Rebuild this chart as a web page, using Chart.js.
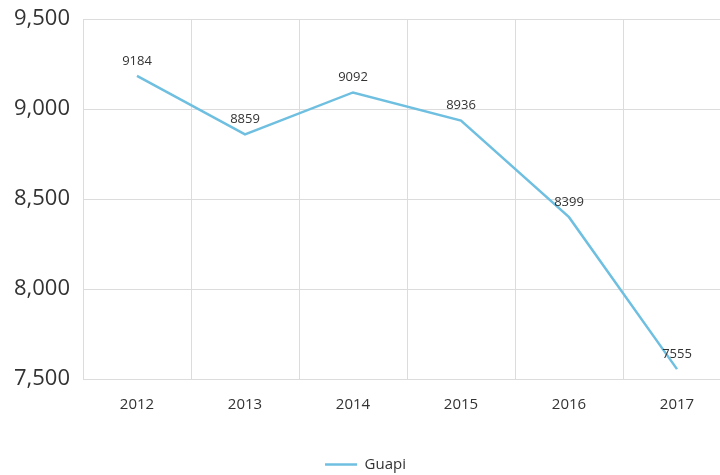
<!DOCTYPE html>
<html>
<head>
<meta charset="utf-8">
<script src="https://cdn.jsdelivr.net/npm/chart.js@4"></script>
<style>
  html, body { margin: 0; padding: 0; background: #fff; overflow: hidden; width: 720px; height: 475px; }
  #wrap { width: 731px; height: 475px; }
</style>
</head>
<body>
<div id="wrap"><canvas id="chart" width="731" height="475"></canvas></div>
<script>
const years = ["2012", "2013", "2014", "2015", "2016", "2017"];
const guapi = [9184, 8859, 9092, 8936, 8399, 7555];
const yTicks = [7500, 8000, 8500, 9000, 9500];

// draws the value above each point
const valueLabels = {
    id: "valueLabels",
    afterDatasetsDraw(chart) {
        const ctx = chart.ctx;
        const meta = chart.getDatasetMeta(0);
        ctx.save();
        ctx.font = "13px 'Open Sans'";
        ctx.fillStyle = "#333";
        ctx.textAlign = "center";
        ctx.textBaseline = "middle";
        meta.data.forEach((pt, i) => {
            ctx.fillText(String(guapi[i]), pt.x, pt.y - 15);
        });
        ctx.restore();
    }
};

document.addEventListener("DOMContentLoaded", function () {
    const ctx = document.getElementById("chart").getContext("2d");
    new Chart(ctx, {
        type: "line",
        data: {
            labels: years,
            datasets: [{
                label: "Guapi",
                data: guapi,
                borderColor: "#6fbfe0",
                backgroundColor: "#6fbfe0",
                borderWidth: 2.5,
                pointRadius: 0,
                tension: 0,
                fill: false
            }]
        },
        options: {
            responsive: false,
            animation: false,
            layout: { padding: { top: 19, right: 0, left: 0, bottom: -7 } },
            plugins: {
                legend: {
                    position: "bottom",
                    labels: {
                        usePointStyle: true,
                        pointStyle: "line",
                        pointStyleWidth: 32,
                        color: "#333",
                        font: { family: "'Open Sans'", size: 15 },
                        padding: 4
                    }
                },
                tooltip: { enabled: false }
            },
            scales: {
                x: {
                    offset: true,
                    grid: {
                        color: c => (c.index >= years.length ? "rgba(0,0,0,0)" : "#dcdcdc"),
                        offset: true,
                        drawTicks: false
                    },
                    border: { color: "#dcdcdc" },
                    ticks: { color: "#333", font: { family: "'Open Sans'", size: 15 }, padding: 17 },
                    afterFit(scale) { scale.height = 74; }
                },
                y: {
                    min: 7500,
                    max: 9500,
                    afterBuildTicks(scale) { scale.ticks = yTicks.map(v => ({ value: v })); },
                    grid: { color: "#dcdcdc", drawTicks: false },
                    border: { display: false },
                    ticks: {
                        color: "#333",
                        font: { family: "'Open Sans'", size: 22 },
                        padding: 13,
                        callback: v => v.toLocaleString("en-US")
                    },
                    afterFit(scale) {
                        scale.width = 83;
                        scale.paddingTop = 0;
                        scale.paddingBottom = 0;
                    }
                }
            }
        },
        plugins: [valueLabels]
    });
});
</script>
</body>
</html>
